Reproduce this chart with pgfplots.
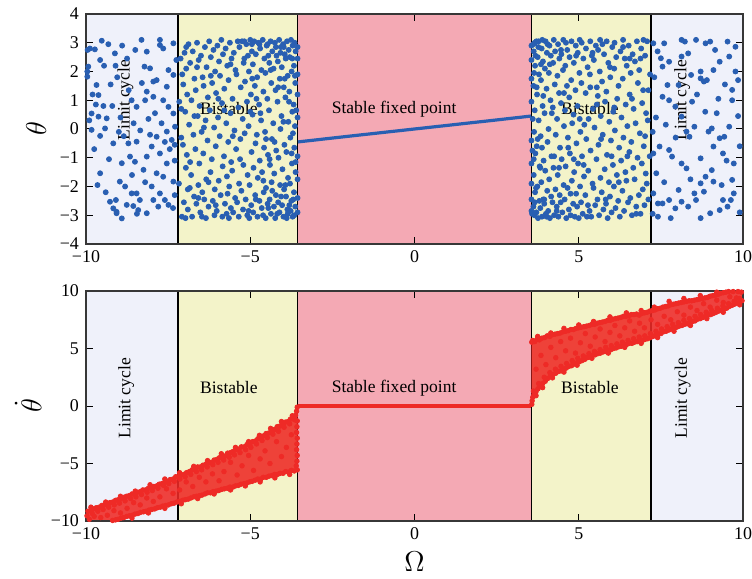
\documentclass[border=0pt]{standalone}
\usepackage{fontspec}
\setmainfont{Liberation Serif}
\usepackage{pgfplots}
\pgfplotsset{compat=1.18}

\definecolor{lcbg}{RGB}{239,241,250}
\definecolor{bsbg}{RGB}{243,243,201}
\definecolor{sfbg}{RGB}{244,169,180}
\definecolor{ptblue}{RGB}{41,95,178}
\definecolor{ptred}{RGB}{238,42,38}
\definecolor{framec}{RGB}{55,55,55}

\pgfplotsset{
  panel/.style={
    scale only axis, width=328.5bp, height=115bp,
    xmin=-10, xmax=10,
    axis on top,
    axis line style={framec, line width=0.7bp},
    tick align=inside, major tick length=3.5bp,
    tick style={black, line width=0.5bp},
    xtick={-10,-5,0,5,10}, xticklabels={−10,−5,0,5,10},
    ticklabel style={font=\fontsize{9}{10}\selectfont},
    label style={font=\fontsize{14}{16}\selectfont},
  },
  region/.style={draw=none, fill=#1, forget plot},
  divider/.style={black, line width=0.6bp, forget plot},
  bluedots/.style={only marks, mark=*, mark size=1.25bp, color=ptblue, mark options={draw=none, fill=ptblue}},
  reddots/.style={only marks, mark=*, mark size=1.15bp, color=ptred, mark options={draw=none, fill=ptred}},
}
\newcommand\regionfont{\fontsize{8.8}{10}\selectfont}

\begin{document}
\begin{tikzpicture}
\useasboundingbox (0,0) rectangle (376bp,289.5bp);

% ---------------- upper panel: phase ----------------
\begin{axis}[panel,
  at={(43bp,167.5bp)}, anchor=south west,
  ymin=-4, ymax=4, ytick={-4,-3,-2,-1,0,1,2,3,4},
  yticklabels={−4,−3,−2,−1,0,1,2,3,4},
  ylabel={$\theta$},
  ylabel style={at={(axis description cs:-0.076,0.5)}, anchor=center},
]
\addplot[region=lcbg] coordinates {(-10,-4) (-7.2,-4) (-7.2,4) (-10,4)};
\addplot[region=bsbg] coordinates {(-7.2,-4) (-3.55,-4) (-3.55,4) (-7.2,4)};
\addplot[region=sfbg] coordinates {(-3.55,-4) (3.55,-4) (3.55,4) (-3.55,4)};
\addplot[region=bsbg] coordinates {(3.55,-4) (7.2,-4) (7.2,4) (3.55,4)};
\addplot[region=lcbg] coordinates {(7.2,-4) (10,-4) (10,4) (7.2,4)};
\addplot[divider] coordinates {(-7.2,-4) (-7.2,4)};
\addplot[divider] coordinates {(-3.55,-4) (-3.55,4)};
\addplot[divider] coordinates {(3.55,-4) (3.55,4)};
\addplot[divider] coordinates {(7.2,-4) (7.2,4)};

% limit cycle, negative drive
\addplot[bluedots] coordinates {
(-9.88,2.80) (-9.73,2.77) (-9.52,3.07) (-9.32,2.95) (-9.12,2.63) (-9.57,2.40) (-9.93,2.17) (-9.96,2.00) (-9.96,1.82) (-9.68,1.53)
(-9.62,1.18) (-9.47,0.80) (-9.20,0.80) (-9.83,0.54) (-9.62,0.43) (-9.37,0.37) (-9.57,-0.24) (-9.42,0.02) (-9.17,-0.50) (-9.57,-1.54)
(-9.27,-2.53) (-9.17,-2.76) (-9.07,-2.88) (-8.91,-3.11) (-9.09,-2.47) (-8.97,-1.83) (-8.81,-2.00) (-8.61,-2.24) (-8.56,-2.68) (-8.41,-2.82)
(-8.91,-1.19) (-8.66,-0.96) (-8.51,-1.14) (-8.46,-0.44) (-8.71,-0.50) (-8.61,1.00) (-8.46,0.77) (-8.31,3.10) (-8.15,2.69) (-8.22,2.17)
(-8.05,2.11) (-7.95,1.65) (-8.15,1.30) (-8.20,1.00) (-7.95,1.12) (-7.85,1.70) (-7.75,3.10) (-7.75,2.92) (-7.65,2.80) (-7.34,2.98)
(-7.49,2.05) (-7.34,1.88) (-7.54,1.47) (-7.65,1.00) (-7.49,0.77) (-7.34,0.54) (-7.29,0.08) (-7.54,-0.09) (-7.39,-0.38) (-7.85,-0.27)
(-8.00,-0.61) (-7.75,-0.85) (-8.15,-0.96) (-7.54,-1.20) (-7.85,-1.54) (-8.25,-1.42) (-7.65,-1.66) (-7.34,-1.83) (-8.00,-2.00) (-7.75,-2.24)
(-7.95,-2.47) (-7.49,-2.64) (-7.60,-2.47) (-8.15,-2.93) (-7.80,-2.70) (-8.36,-2.47) (-8.46,-2.24) (-8.76,-2.64) (-9.07,-2.93) (-9.83,-0.03)
(-9.95,2.75) (-9.80,1.20) (-9.70,0.85) (-9.90,0.30) (-9.45,2.20) (-9.25,1.55) (-9.05,1.80) (-8.90,2.90) (-8.75,2.45) (-8.95,0.40)
(-9.00,-0.10) (-9.30,-1.05) (-9.65,-1.95) (-9.40,-2.20) (-8.85,-0.25) (-8.55,0.20) (-8.35,-0.05) (-8.30,1.60) (-8.70,1.35) (-8.10,0.35)
(-7.90,0.55) (-7.70,0.20) (-7.45,-0.70) (-7.30,-1.10) (-7.25,2.40) (-7.30,-2.30) (-8.60,-1.60) (-8.20,-1.85) (-9.75,-0.70) (-9.10,2.20)
(-8.50,2.75) (-8.05,-0.20) (-7.60,-0.45) (-7.30,-0.55) (-8.45,-2.95) (-7.35,-2.75)
};
% bistable, negative drive
\addplot[bluedots] coordinates {
(-7.12,2.45) (-7.07,1.90) (-7.16,0.95) (-7.10,-0.30) (-7.17,-1.90) (-7.08,-3.05)
(-7.00,2.65) (-6.95,2.10) (-7.04,1.55) (-6.98,0.60) (-7.05,-0.55) (-6.96,-1.35) (-7.02,-2.55) (-6.97,-3.10)
(-6.88,2.95) (-6.83,2.30) (-6.92,1.20) (-6.86,0.15) (-6.93,-0.90) (-6.84,-2.05) (-6.90,-2.80)
(-6.75,2.70) (-6.70,1.75) (-6.79,1.00) (-6.73,-0.20) (-6.80,-1.60) (-6.71,-2.35) (-6.77,-3.05)
(-6.62,3.00) (-6.57,2.40) (-6.66,1.35) (-6.60,0.45) (-6.67,-0.70) (-6.58,-1.95) (-6.64,-2.60)
(-6.50,2.55) (-6.45,1.80) (-6.54,0.80) (-6.48,-0.10) (-6.55,-1.20) (-6.46,-2.20) (-6.52,-2.90)
(-6.38,2.85) (-6.33,2.15) (-6.42,1.50) (-6.36,0.30) (-6.43,-0.85) (-6.34,-1.75) (-6.40,-2.45) (-6.35,-3.10)
(-6.25,3.05) (-6.20,2.50) (-6.29,1.10) (-6.23,0.65) (-6.30,-0.40) (-6.21,-1.50) (-6.27,-2.70)
(-6.12,2.75) (-6.07,2.00) (-6.16,1.60) (-6.10,0.05) (-6.17,-1.05) (-6.08,-2.10) (-6.14,-2.50) (-6.09,-3.00)
(-6.00,2.90) (-5.95,2.35) (-6.04,1.25) (-5.98,0.40) (-6.05,-0.60) (-5.96,-1.80) (-6.02,-2.85)
(-5.88,3.10) (-5.83,2.60) (-5.92,1.85) (-5.86,0.90) (-5.93,-0.25) (-5.84,-1.30) (-5.90,-2.30) (-5.85,-3.05)
(-5.75,2.80) (-5.70,2.20) (-5.79,1.40) (-5.73,0.20) (-5.80,-0.95) (-5.71,-1.65) (-5.77,-2.60) (-5.72,-2.95)
(-5.62,3.00) (-5.57,2.45) (-5.66,1.70) (-5.60,0.55) (-5.67,-0.45) (-5.58,-1.15) (-5.64,-2.00) (-5.59,-2.75) (-5.65,-3.10)
(-5.50,2.65) (-5.45,2.05) (-5.54,1.05) (-5.48,-0.05) (-5.55,-1.45) (-5.46,-2.40) (-5.52,-2.90)
(-5.38,3.05) (-5.33,2.85) (-5.42,1.90) (-5.36,0.75) (-5.43,-0.70) (-5.34,-1.90) (-5.40,-2.55) (-5.35,-3.05)
(-5.25,3.05) (-5.20,2.30) (-5.29,1.45) (-5.23,0.35) (-5.30,-0.35) (-5.21,-1.25) (-5.27,-2.15) (-5.22,-2.80)
(-5.12,2.95) (-5.07,2.55) (-5.16,1.65) (-5.10,0.95) (-5.17,-0.15) (-5.08,-1.60) (-5.14,-2.45) (-5.09,-3.00)
(-5.00,3.10) (-4.95,2.70) (-5.04,2.00) (-4.98,1.20) (-5.05,0.10) (-4.96,-0.80) (-5.02,-1.95) (-4.97,-2.65) (-5.03,-3.10)
(-4.88,3.05) (-4.83,2.60) (-4.92,2.25) (-4.86,1.50) (-4.93,0.50) (-4.84,-0.50) (-4.90,-1.35) (-4.85,-2.30) (-4.91,-2.90)
(-4.75,3.00) (-4.70,2.80) (-4.79,1.80) (-4.73,0.85) (-4.80,-0.20) (-4.71,-1.10) (-4.77,-1.70) (-4.72,-2.50) (-4.78,-3.05)
(-4.62,3.10) (-4.57,2.45) (-4.66,2.05) (-4.60,1.30) (-4.67,0.30) (-4.58,-0.65) (-4.64,-1.50) (-4.59,-2.20) (-4.65,-2.75) (-4.61,-3.00)
(-4.50,2.90) (-4.45,2.55) (-4.54,1.95) (-4.48,1.05) (-4.55,-0.10) (-4.46,-0.90) (-4.52,-2.05) (-4.47,-2.60) (-4.53,-3.10)
(-4.38,3.05) (-4.33,2.70) (-4.42,2.30) (-4.36,1.60) (-4.43,0.65) (-4.34,-0.35) (-4.40,-1.25) (-4.35,-1.85) (-4.41,-2.45) (-4.37,-2.95)
(-4.25,3.00) (-4.20,2.55) (-4.29,2.10) (-4.23,1.35) (-4.30,0.20) (-4.21,-0.75) (-4.27,-1.55) (-4.22,-2.30) (-4.28,-2.70) (-4.24,-3.10)
(-4.12,3.10) (-4.07,2.85) (-4.16,2.35) (-4.10,1.75) (-4.17,0.95) (-4.08,0.00) (-4.14,-1.00) (-4.09,-1.95) (-4.15,-2.55) (-4.11,-2.90)
(-4.00,2.95) (-3.95,2.60) (-4.04,2.15) (-3.98,1.45) (-4.05,0.45) (-3.96,-0.55) (-4.02,-1.40) (-3.97,-2.10) (-4.03,-2.65) (-3.99,-3.05)
(-3.88,3.05) (-3.83,2.75) (-3.92,2.45) (-3.86,1.85) (-3.93,1.10) (-3.84,0.25) (-3.90,-0.80) (-3.85,-1.70) (-3.91,-2.35) (-3.87,-2.80) (-3.89,-3.10)
(-3.76,3.10) (-3.71,2.90) (-3.80,2.50) (-3.74,2.00) (-3.81,1.30) (-3.72,0.60) (-3.78,-0.30) (-3.73,-1.20) (-3.79,-1.90) (-3.75,-2.50) (-3.77,-2.85) (-3.71,-3.05)
(-3.65,3.00) (-3.62,2.70) (-3.67,2.20) (-3.63,1.60) (-3.68,0.85) (-3.64,0.10) (-3.66,-0.65) (-3.62,-1.50) (-3.67,-2.20) (-3.63,-2.70) (-3.66,-3.00)
(-3.56,2.85) (-3.56,2.45) (-3.56,1.90) (-3.56,1.20) (-3.56,0.40) (-3.56,-0.95) (-3.56,-1.75) (-3.56,-2.40) (-3.56,-2.90)
(-6.95,2.85) (-6.62,2.15) (-6.41,0.05) (-6.83,-1.15) (-6.27,-1.85) (-6.58,-2.40) (-5.97,1.05) (-5.79,0.65) (-5.53,-0.25) (-5.31,-1.05)
(-5.69,-2.25) (-5.18,2.45) (-4.94,1.75) (-4.81,1.05) (-4.69,0.55) (-4.52,-0.35) (-4.41,-1.05) (-4.33,-2.15) (-4.18,-2.95) (-4.06,-2.35)
(-3.93,-1.95) (-3.81,-2.65) (-3.69,-2.45) (-3.62,-1.15) (-3.70,-0.15) (-3.82,0.95) (-3.95,1.75) (-4.08,2.65) (-4.22,2.85) (-4.47,2.95)
(-4.72,2.95) (-4.95,2.95) (-5.18,3.05) (-3.98,2.85) (-3.72,2.45) (-3.64,1.85) (-3.60,0.65) (-3.74,-0.85) (-3.86,-2.95) (-4.45,-2.75)
(-4.83,-2.45) (-5.05,-2.85) (-6.05,-2.65) (-6.47,-3.05) (-6.90,-2.10) (-7.10,0.70) (-6.70,0.45) (-6.20,1.85) (-5.60,2.25) (-5.00,0.60)
(-4.60,-1.80) (-4.26,-0.45) (-3.99,0.25) (-4.15,1.45) (-4.38,2.05)
};
% bistable, positive drive
\addplot[bluedots] coordinates {
(7.12,-2.45) (7.07,-1.90) (7.16,-0.95) (7.10,0.30) (7.17,1.90) (7.08,3.05)
(7.00,-2.65) (6.95,-2.10) (7.04,-1.55) (6.98,-0.60) (7.05,0.55) (6.96,1.35) (7.02,2.55) (6.97,3.10)
(6.88,-2.95) (6.83,-2.30) (6.92,-1.20) (6.86,-0.15) (6.93,0.90) (6.84,2.05) (6.90,2.80)
(6.75,-2.70) (6.70,-1.75) (6.79,-1.00) (6.73,0.20) (6.80,1.60) (6.71,2.35) (6.77,3.05)
(6.62,-3.00) (6.57,-2.40) (6.66,-1.35) (6.60,-0.45) (6.67,0.70) (6.58,1.95) (6.64,2.60)
(6.50,-2.55) (6.45,-1.80) (6.54,-0.80) (6.48,0.10) (6.55,1.20) (6.46,2.20) (6.52,2.90)
(6.38,-2.85) (6.33,-2.15) (6.42,-1.50) (6.36,-0.30) (6.43,0.85) (6.34,1.75) (6.40,2.45) (6.35,3.10)
(6.25,-3.05) (6.20,-2.50) (6.29,-1.10) (6.23,-0.65) (6.30,0.40) (6.21,1.50) (6.27,2.70)
(6.12,-2.75) (6.07,-2.00) (6.16,-1.60) (6.10,-0.05) (6.17,1.05) (6.08,2.10) (6.14,2.50) (6.09,3.00)
(6.00,-2.90) (5.95,-2.35) (6.04,-1.25) (5.98,-0.40) (6.05,0.60) (5.96,1.80) (6.02,2.85)
(5.88,-3.10) (5.83,-2.60) (5.92,-1.85) (5.86,-0.90) (5.93,0.25) (5.84,1.30) (5.90,2.30) (5.85,3.05)
(5.75,-2.80) (5.70,-2.20) (5.79,-1.40) (5.73,-0.20) (5.80,0.95) (5.71,1.65) (5.77,2.60) (5.72,2.95)
(5.62,-3.00) (5.57,-2.45) (5.66,-1.70) (5.60,-0.55) (5.67,0.45) (5.58,1.15) (5.64,2.00) (5.59,2.75) (5.65,3.10)
(5.50,-2.65) (5.45,-2.05) (5.54,-1.05) (5.48,0.05) (5.55,1.45) (5.46,2.40) (5.52,2.90)
(5.38,-3.05) (5.33,-2.85) (5.42,-1.90) (5.36,-0.75) (5.43,0.70) (5.34,1.90) (5.40,2.55) (5.35,3.05)
(5.25,-3.05) (5.20,-2.30) (5.29,-1.45) (5.23,-0.35) (5.30,0.35) (5.21,1.25) (5.27,2.15) (5.22,2.80)
(5.12,-2.95) (5.07,-2.55) (5.16,-1.65) (5.10,-0.95) (5.17,0.15) (5.08,1.60) (5.14,2.45) (5.09,3.00)
(5.00,-3.10) (4.95,-2.70) (5.04,-2.00) (4.98,-1.20) (5.05,-0.10) (4.96,0.80) (5.02,1.95) (4.97,2.65) (5.03,3.10)
(4.88,-3.05) (4.83,-2.60) (4.92,-2.25) (4.86,-1.50) (4.93,-0.50) (4.84,0.50) (4.90,1.35) (4.85,2.30) (4.91,2.90)
(4.75,-3.00) (4.70,-2.80) (4.79,-1.80) (4.73,-0.85) (4.80,0.20) (4.71,1.10) (4.77,1.70) (4.72,2.50) (4.78,3.05)
(4.62,-3.10) (4.57,-2.45) (4.66,-2.05) (4.60,-1.30) (4.67,-0.30) (4.58,0.65) (4.64,1.50) (4.59,2.20) (4.65,2.75) (4.61,3.00)
(4.50,-2.90) (4.45,-2.55) (4.54,-1.95) (4.48,-1.05) (4.55,0.10) (4.46,0.90) (4.52,2.05) (4.47,2.60) (4.53,3.10)
(4.38,-3.05) (4.33,-2.70) (4.42,-2.30) (4.36,-1.60) (4.43,-0.65) (4.34,0.35) (4.40,1.25) (4.35,1.85) (4.41,2.45) (4.37,2.95)
(4.25,-3.00) (4.20,-2.55) (4.29,-2.10) (4.23,-1.35) (4.30,-0.20) (4.21,0.75) (4.27,1.55) (4.22,2.30) (4.28,2.70) (4.24,3.10)
(4.12,-3.10) (4.07,-2.85) (4.16,-2.35) (4.10,-1.75) (4.17,-0.95) (4.08,0.00) (4.14,1.00) (4.09,1.95) (4.15,2.55) (4.11,2.90)
(4.00,-2.95) (3.95,-2.60) (4.04,-2.15) (3.98,-1.45) (4.05,-0.45) (3.96,0.55) (4.02,1.40) (3.97,2.10) (4.03,2.65) (3.99,3.05)
(3.88,-3.05) (3.83,-2.75) (3.92,-2.45) (3.86,-1.85) (3.93,-1.10) (3.84,-0.25) (3.90,0.80) (3.85,1.70) (3.91,2.35) (3.87,2.80) (3.89,3.10)
(3.76,-3.10) (3.71,-2.90) (3.80,-2.50) (3.74,-2.00) (3.81,-1.30) (3.72,-0.60) (3.78,0.30) (3.73,1.20) (3.79,1.90) (3.75,2.50) (3.77,2.85) (3.71,3.05)
(3.65,-3.00) (3.62,-2.70) (3.67,-2.20) (3.63,-1.60) (3.68,-0.85) (3.64,-0.10) (3.66,0.65) (3.62,1.50) (3.67,2.20) (3.63,2.70) (3.66,3.00)
(3.56,-2.85) (3.56,-2.45) (3.56,-1.90) (3.56,-1.20) (3.56,-0.40) (3.56,0.95) (3.56,1.75) (3.56,2.40) (3.56,2.90)
(3.62,2.95) (3.68,2.55) (3.64,1.95) (3.72,1.45) (3.60,0.35) (3.75,-0.35) (3.63,-1.05) (3.70,-2.05) (3.66,-2.55) (3.85,2.25)
(3.92,1.15) (3.83,-1.35) (3.95,-2.45) (4.05,2.95) (4.12,2.25) (4.18,0.55) (4.25,-0.95) (4.33,-2.85) (4.46,2.75) (4.55,1.25)
(4.68,-0.65) (4.75,-2.25) (4.92,2.55) (5.03,0.35) (5.15,-1.25) (5.28,-2.65) (5.42,2.65) (5.55,0.85) (5.68,-0.35) (5.82,-2.45)
(5.95,2.15) (6.08,0.75) (6.22,-1.85) (6.35,2.85) (6.48,-0.95) (6.62,1.05) (6.75,-2.95) (6.88,2.45) (7.02,-0.25) (7.12,1.35)
(3.58,-2.95) (3.59,-0.75) (3.78,3.05) (3.88,-0.65) (4.02,-3.05) (4.40,-1.35) (4.85,-1.05) (5.35,1.45) (6.00,-0.95) (6.55,2.45)
};
% limit cycle, positive drive
\addplot[bluedots] coordinates {
(7.27,2.98) (7.60,2.98) (7.50,2.46) (7.75,2.34) (8.13,3.10) (8.23,3.04) (8.57,3.10) (8.86,2.98) (9.00,3.04) (9.53,3.04)
(9.29,2.34) (8.81,1.65) (8.71,1.76) (8.42,1.88) (7.70,1.53) (8.04,1.53) (7.55,1.12) (7.75,1.00) (7.94,0.78) (8.13,0.43)
(8.28,-0.09) (8.37,-0.27) (9.05,0.02) (9.29,-0.32) (9.43,-0.27) (9.58,0.08) (9.67,1.00) (9.67,1.36) (9.77,2.00) (7.46,-0.61)
(7.27,-0.85) (7.75,-0.73) (7.84,-0.96) (8.13,-1.20) (8.28,-1.37) (8.71,-1.02) (9.10,-0.61) (9.39,-0.85) (9.72,-1.20) (7.36,-1.54)
(7.27,-2.24) (7.41,-2.59) (7.75,-2.47) (8.04,-2.12) (8.13,-2.53) (8.52,-2.24) (8.71,-1.89) (8.86,-1.66) (9.05,-1.43) (9.10,-1.83)
(8.81,-2.18) (8.57,-2.47) (8.33,-2.70) (7.94,-2.76) (7.55,-2.59) (7.41,-3.05) (7.80,-3.10) (8.71,-3.10) (9.00,-2.93) (9.29,-2.82)
(9.53,-2.70) (9.63,-2.47) (9.72,-2.24) (9.39,-2.47) (9.67,-1.77) (7.55,2.17) (8.13,2.52) (8.33,2.63) (8.71,2.00) (8.90,1.70)
(9.10,2.05) (9.58,2.52) (9.77,2.86) (8.52,0.08) (8.95,-0.09) (7.30,1.80) (7.35,0.40) (7.65,0.15) (7.95,-0.30) (8.45,0.95)
(8.60,1.20) (9.25,1.05) (9.45,1.55) (9.85,0.45) (9.90,-0.60) (9.20,0.55) (8.85,0.60) (7.25,-0.10) (7.40,2.70) (9.15,2.75)
(9.85,1.70) (9.35,-1.95) (8.40,-1.75) (7.60,-1.85) (7.25,-2.95) (9.90,-2.90) (9.50,-1.10)
};
% stable fixed point branch
\addplot[ptblue, line width=1.6bp] coordinates {
(-3.55,-0.45) (-2.5,-0.315) (-1.25,-0.157) (0,0) (1.25,0.157) (2.5,0.315) (3.55,0.45)
};

\node[font=\regionfont, rotate=90] at (axis cs:-8.8,1.0) {Limit cycle};
\node[font=\regionfont] at (axis cs:-5.65,0.7) {Bistable};
\node[font=\regionfont] at (axis cs:-0.62,0.7) {Stable fixed point};
\node[font=\regionfont] at (axis cs:5.34,0.72) {Bistable};
\node[font=\regionfont, rotate=90] at (axis cs:8.15,1.0) {Limit cycle};
\end{axis}

% ---------------- lower panel: frequency ----------------
\begin{axis}[panel,
  at={(43bp,29bp)}, anchor=south west,
  ymin=-10, ymax=10, ytick={-10,-5,0,5,10},
  yticklabels={−10,−5,0,5,10},
  ylabel={$\dot{\theta}$},
  ylabel style={at={(axis description cs:-0.088,0.5)}, anchor=center},
  xlabel={$\Omega$},
  xlabel style={at={(axis description cs:0.5,-0.177)}, anchor=center},
]
\addplot[region=lcbg] coordinates {(-10,-10) (-7.2,-10) (-7.2,10) (-10,10)};
\addplot[region=bsbg] coordinates {(-7.2,-10) (-3.55,-10) (-3.55,10) (-7.2,10)};
\addplot[region=sfbg] coordinates {(-3.55,-10) (3.55,-10) (3.55,10) (-3.55,10)};
\addplot[region=bsbg] coordinates {(3.55,-10) (7.2,-10) (7.2,10) (3.55,10)};
\addplot[region=lcbg] coordinates {(7.2,-10) (10,-10) (10,10) (7.2,10)};
\addplot[divider] coordinates {(-7.2,-10) (-7.2,10)};
\addplot[divider] coordinates {(-3.55,-10) (-3.55,10)};
\addplot[divider] coordinates {(3.55,-10) (3.55,10)};
\addplot[divider] coordinates {(7.2,-10) (7.2,10)};

% envelopes of the running states
\addplot[draw=none, fill=ptred, fill opacity=0.88, forget plot] coordinates {
(-3.56,-0.2) (-3.62,-0.8) (-3.75,-1.15) (-4.0,-1.6) (-4.5,-2.5) (-5.0,-3.4) (-5.5,-4.0) (-6.0,-4.7) (-6.5,-5.3)
(-7.2,-6.25) (-8.0,-7.15) (-8.75,-7.9) (-9.6,-8.85) (-10,-9.3) (-10,-10) (-9.2,-10) (-8.75,-9.5) (-8.0,-8.9)
(-7.2,-8.25) (-6.5,-7.65) (-6.0,-7.25) (-5.5,-6.9) (-5.0,-6.5) (-4.5,-6.05) (-4.0,-5.75) (-3.56,-5.5)
};
\addplot[draw=none, fill=ptred, fill opacity=0.88, forget plot] coordinates {
(3.56,0.2) (3.62,0.95) (3.82,1.85) (4.13,2.7) (4.43,3.15) (4.84,3.72) (5.35,4.4) (5.85,4.9) (6.46,5.45)
(7.07,5.9) (7.88,6.9) (8.39,7.35) (8.9,7.95) (9.4,8.5) (10,9.25) (10,10) (9.45,10) (9.4,9.75) (8.9,9.35)
(8.39,9.05) (7.68,8.6) (7.17,8.15) (6.87,7.9) (6.46,7.75) (5.85,7.3) (5.25,6.85) (4.64,6.4) (4.03,6.0) (3.56,5.5)
};

% running states, negative drive
\addplot[reddots] coordinates {
(-3.57,-0.10) (-3.59,-0.45) (-3.62,-0.80) (-3.70,-1.05) (-3.78,-1.15) (-3.85,-1.35) (-3.93,-1.40) (-4.02,-1.55) (-4.10,-1.75) (-4.18,-1.80)
(-4.27,-2.05) (-4.35,-2.10) (-4.44,-2.35) (-4.52,-2.40) (-4.60,-2.60) (-4.68,-2.70) (-4.77,-2.85) (-4.85,-3.05) (-4.93,-3.10) (-5.02,-3.35)
(-5.10,-3.35) (-5.18,-3.55) (-5.27,-3.55) (-5.35,-3.75) (-5.44,-3.80) (-5.52,-3.95) (-5.60,-4.05) (-5.69,-4.10) (-5.77,-4.35) (-5.85,-4.40)
(-5.94,-4.50) (-6.02,-4.65) (-6.10,-4.70) (-6.19,-4.90) (-6.27,-4.95) (-6.35,-5.05) (-6.44,-5.15) (-6.52,-5.30) (-6.60,-5.30) (-6.69,-5.50)
(-6.77,-5.55) (-6.85,-5.70) (-6.94,-5.80) (-7.02,-5.95) (-7.10,-6.00) (-7.19,-6.15) (-7.27,-6.15) (-7.35,-6.35) (-7.44,-6.40) (-7.52,-6.55)
(-7.60,-6.60) (-7.69,-6.75) (-7.77,-6.80) (-7.85,-6.95) (-7.94,-7.00) (-8.02,-7.10) (-8.10,-7.15) (-8.19,-7.30) (-8.27,-7.30) (-8.35,-7.45)
(-8.44,-7.50) (-8.52,-7.65) (-8.60,-7.65) (-8.69,-7.80) (-8.77,-7.85) (-8.85,-7.95) (-8.94,-8.05) (-9.02,-8.15) (-9.10,-8.20) (-9.19,-8.35)
(-9.27,-8.40) (-9.35,-8.50) (-9.44,-8.60) (-9.52,-8.65) (-9.60,-8.80) (-9.69,-8.85) (-9.77,-8.95) (-9.85,-9.05) (-9.94,-9.15)
(-3.72,-0.85) (-4.05,-1.35) (-4.38,-1.95) (-4.72,-2.55) (-5.05,-3.10) (-5.45,-3.60) (-5.88,-4.15) (-6.30,-4.75) (-6.72,-5.25) (-7.15,-5.80)
(-7.60,-6.35) (-8.05,-6.85) (-8.50,-7.40) (-8.95,-7.85) (-9.40,-8.35) (-9.85,-8.80)
(-3.65,-1.20) (-3.80,-1.55) (-3.97,-1.85) (-4.14,-2.20) (-4.31,-2.45) (-4.48,-2.75) (-4.64,-3.00) (-4.81,-3.30) (-4.98,-3.60) (-5.14,-3.80)
(-5.31,-4.05) (-5.48,-4.25) (-5.64,-4.45) (-5.81,-4.70) (-5.98,-4.90) (-6.14,-5.10) (-6.31,-5.30) (-6.48,-5.55) (-6.64,-5.70) (-6.81,-5.95)
(-6.98,-6.15) (-7.14,-6.35) (-7.31,-6.55) (-7.48,-6.75) (-7.64,-6.90) (-7.81,-7.15) (-7.98,-7.35) (-8.14,-7.50) (-8.31,-7.70) (-8.48,-7.90)
(-8.64,-8.05) (-8.81,-8.25) (-8.98,-8.45) (-9.14,-8.60) (-9.31,-8.80) (-9.48,-9.00) (-9.64,-9.15) (-9.81,-9.35) (-9.97,-9.55)
(-3.57,-5.55) (-3.60,-5.20) (-3.58,-4.80) (-3.57,-4.30) (-3.59,-3.80) (-3.58,-3.30) (-3.57,-2.80) (-3.59,-2.30) (-3.58,-1.80) (-3.57,-1.30)
(-3.66,-5.65) (-3.75,-5.60) (-3.83,-5.75) (-3.92,-5.70) (-4.00,-5.85) (-4.09,-5.85) (-4.17,-5.95) (-4.26,-5.95) (-4.34,-6.05) (-4.43,-6.10)
(-4.51,-6.20) (-4.60,-6.20) (-4.68,-6.35) (-4.77,-6.35) (-4.85,-6.45) (-4.94,-6.55) (-5.02,-6.60) (-5.11,-6.70) (-5.19,-6.75) (-5.28,-6.80)
(-5.36,-6.90) (-5.45,-6.95) (-5.53,-7.05) (-5.62,-7.05) (-5.70,-7.15) (-5.79,-7.20) (-5.87,-7.25) (-5.96,-7.35) (-6.04,-7.40) (-6.13,-7.45)
(-6.21,-7.55) (-6.30,-7.55) (-6.38,-7.65) (-6.47,-7.75) (-6.55,-7.80) (-6.64,-7.85) (-6.72,-7.90) (-6.81,-8.00) (-6.89,-8.10) (-6.98,-8.15)
(-7.06,-8.20) (-7.15,-8.30) (-7.23,-8.35) (-7.32,-8.45) (-7.40,-8.50) (-7.49,-8.60) (-7.57,-8.65) (-7.66,-8.70) (-7.74,-8.80) (-7.83,-8.85)
(-7.91,-8.95) (-8.00,-9.00) (-8.08,-9.05) (-8.17,-9.15) (-8.25,-9.20) (-8.34,-9.25) (-8.42,-9.35) (-8.51,-9.40) (-8.59,-9.50) (-8.68,-9.55)
(-8.76,-9.60) (-8.85,-9.70) (-8.93,-9.75) (-9.02,-9.85) (-9.10,-9.90) (-9.19,-9.95)
(-3.80,-5.95) (-4.25,-6.25) (-4.70,-6.60) (-5.15,-6.95) (-5.60,-7.30) (-6.10,-7.65) (-6.60,-8.05) (-7.10,-8.50) (-7.60,-8.90) (-8.10,-9.30)
(-8.60,-9.75)
(-3.75,-2.5) (-3.9,-3.6) (-4.05,-4.4) (-4.2,-3.1) (-4.4,-5.0) (-4.55,-3.9) (-4.7,-4.6) (-4.9,-5.6) (-5.05,-4.3) (-5.25,-5.2)
(-5.4,-6.0) (-5.6,-4.9) (-5.8,-5.7) (-5.95,-6.5) (-6.15,-5.9) (-6.35,-6.6) (-6.55,-6.2) (-6.75,-7.0) (-6.95,-6.6) (-7.15,-7.3)
(-7.35,-7.6) (-7.55,-7.2) (-7.75,-7.9) (-7.95,-8.3) (-8.15,-8.0) (-8.35,-8.6) (-8.55,-8.4) (-8.75,-8.9) (-8.95,-9.3) (-9.15,-9.1)
(-9.35,-9.5) (-9.55,-9.7) (-9.75,-9.6) (-9.9,-9.85)
};
% running states, positive drive
\addplot[reddots] coordinates {
(3.57,0.15) (3.58,0.45) (3.60,0.75) (3.64,1.00) (3.70,1.25) (3.76,1.50) (3.83,1.70) (3.90,1.95) (3.98,2.15) (4.06,2.40)
(4.14,2.55) (4.22,2.75) (4.30,2.85) (4.38,3.00) (4.46,3.05) (4.54,3.20) (4.62,3.30) (4.70,3.45) (4.78,3.50) (4.86,3.65)
(4.94,3.75) (5.02,3.85) (5.10,3.95) (5.18,4.05) (5.26,4.20) (5.34,4.25) (5.42,4.40) (5.50,4.45) (5.58,4.55) (5.66,4.60)
(5.74,4.70) (5.82,4.75) (5.90,4.85) (5.98,4.90) (6.06,5.00) (6.14,5.05) (6.22,5.15) (6.30,5.20) (6.38,5.30) (6.46,5.35)
(6.54,5.45) (6.62,5.45) (6.70,5.55) (6.78,5.60) (6.86,5.70) (6.94,5.70) (7.02,5.80) (7.10,5.85) (7.18,5.95) (7.26,6.05)
(7.34,6.15) (7.42,6.25) (7.50,6.30) (7.58,6.45) (7.66,6.50) (7.74,6.60) (7.82,6.70) (7.90,6.80) (7.98,6.85) (8.06,6.95)
(8.14,7.00) (8.22,7.10) (8.30,7.15) (8.38,7.25) (8.46,7.35) (8.54,7.40) (8.62,7.55) (8.70,7.60) (8.78,7.70) (8.86,7.80)
(8.94,7.90) (9.02,7.95) (9.10,8.05) (9.18,8.15) (9.26,8.25) (9.34,8.30) (9.42,8.45) (9.50,8.50) (9.58,8.65) (9.66,8.75)
(9.74,8.85) (9.82,8.95) (9.90,9.05) (9.97,9.15)
(3.70,0.90) (3.90,1.60) (4.20,2.45) (4.55,2.95) (4.95,3.55) (5.40,4.15) (5.90,4.60) (6.40,5.10) (6.90,5.45) (7.40,5.95)
(7.90,6.50) (8.40,7.00) (8.90,7.60) (9.40,8.15) (9.90,8.80)
(3.57,5.55) (3.60,5.70) (3.66,5.60) (3.73,5.80) (3.80,5.75) (3.88,5.90) (3.96,5.95) (4.04,6.10) (4.12,6.05) (4.20,6.20)
(4.28,6.25) (4.36,6.30) (4.44,6.35) (4.52,6.45) (4.60,6.50) (4.68,6.55) (4.76,6.65) (4.84,6.65) (4.92,6.75) (5.00,6.80)
(5.08,6.85) (5.16,6.90) (5.24,6.95) (5.32,7.00) (5.40,7.10) (5.48,7.10) (5.56,7.20) (5.64,7.25) (5.72,7.30) (5.80,7.35)
(5.88,7.45) (5.96,7.45) (6.04,7.55) (6.12,7.60) (6.20,7.65) (6.28,7.70) (6.36,7.80) (6.44,7.80) (6.52,7.85) (6.60,7.95)
(6.68,7.95) (6.76,8.00) (6.84,7.90) (6.92,8.05) (7.00,8.10) (7.08,8.15) (7.16,8.25) (7.24,8.30) (7.32,8.35) (7.40,8.45)
(7.48,8.50) (7.56,8.60) (7.64,8.65) (7.72,8.70) (7.80,8.80) (7.88,8.85) (7.96,8.90) (8.04,8.95) (8.12,9.00) (8.20,9.05)
(8.28,9.10) (8.36,9.15) (8.44,9.15) (8.52,9.20) (8.60,9.25) (8.68,9.30) (8.76,9.35) (8.84,9.40) (8.92,9.45) (9.00,9.55)
(9.08,9.60) (9.16,9.65) (9.24,9.70) (9.32,9.80) (9.40,9.85) (9.48,9.90) (9.56,9.95) (9.70,9.95) (9.85,9.95) (9.95,9.90)
(3.75,6.05) (4.15,6.35) (4.55,6.75) (5.00,7.05) (5.45,7.35) (5.95,7.75) (6.45,8.10) (6.90,8.30) (7.30,8.60) (7.75,9.10)
(8.20,9.35) (8.70,9.60) (9.20,9.90)
(3.62,1.30) (3.78,1.95) (3.95,2.50) (4.12,2.90) (4.29,3.20) (4.46,3.45) (4.63,3.70) (4.80,3.95) (4.97,4.15) (5.14,4.35)
(5.31,4.55) (5.48,4.75) (5.65,4.90) (5.82,5.10) (5.99,5.25) (6.16,5.40) (6.33,5.55) (6.50,5.70) (6.67,5.85) (6.84,6.00)
(7.01,6.10) (7.18,6.30) (7.35,6.50) (7.52,6.70) (7.69,6.90) (7.86,7.10) (8.03,7.25) (8.20,7.45) (8.37,7.60) (8.54,7.80)
(8.71,7.95) (8.88,8.15) (9.05,8.30) (9.22,8.50) (9.39,8.70) (9.56,8.90) (9.73,9.10) (9.90,9.35)
(3.70,3.2) (3.85,4.4) (4.00,3.6) (4.15,5.1) (4.30,4.2) (4.45,5.6) (4.60,4.8) (4.75,5.9) (4.90,4.6) (5.05,5.5)
(5.20,6.3) (5.35,5.2) (5.50,6.0) (5.65,6.7) (5.80,5.6) (5.95,6.4) (6.10,7.0) (6.25,6.1) (6.40,6.8) (6.55,7.4)
(6.70,6.5) (6.85,7.2) (7.00,6.8) (7.20,7.5) (7.40,7.1) (7.60,7.8) (7.80,7.5) (8.00,8.2) (8.20,7.9) (8.40,8.6)
(8.60,8.3) (8.80,8.9) (9.00,8.6) (9.20,9.2) (9.40,9.0) (9.60,9.5) (9.80,9.4)
};
% locked state
\addplot[ptred, line width=1.6bp] coordinates {(-3.55,0) (3.55,0)};

\node[font=\regionfont, rotate=90] at (axis cs:-8.78,0.67) {Limit cycle};
\node[font=\regionfont] at (axis cs:-5.65,1.63) {Bistable};
\node[font=\regionfont] at (axis cs:-0.62,1.55) {Stable fixed point};
\node[font=\regionfont] at (axis cs:5.34,1.63) {Bistable};
\node[font=\regionfont, rotate=90] at (axis cs:8.16,0.67) {Limit cycle};
\end{axis}
\end{tikzpicture}
\end{document}
